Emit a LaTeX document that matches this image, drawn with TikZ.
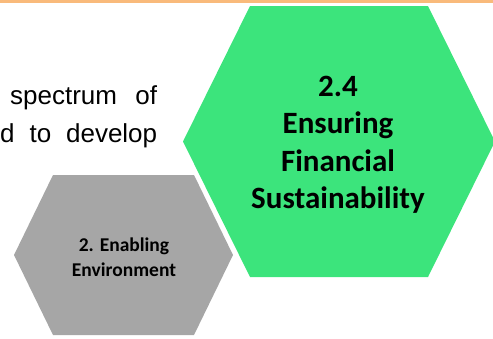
\documentclass[tikz,border=0pt]{standalone}
\usepackage{fontspec}
\setmainfont{Liberation Sans}
\newfontfamily\calibri{Carlito}
\usetikzlibrary{positioning,calc}

\definecolor{hexgreen}{HTML}{3CE47C}
\definecolor{hexgray}{HTML}{A6A6A6}
\definecolor{barorange}{HTML}{F9BA7B}

\begin{document}
\begin{tikzpicture}[x=1pt,y=-1pt,
    hexlabel/.style={align=center,font=\calibri\bfseries},
    bodytext/.style={inner sep=0pt,font=\fontsize{26}{32}\selectfont}]
  \useasboundingbox (0,0) rectangle (493,338);
  \clip (0,0) rectangle (493,338);
  \fill[barorange] (0,0) rectangle (493,3);
  % running text, cut at the left
  \node[bodytext,anchor=base west] (line1) at (10,104) {\makebox[147pt][s]{spectrum\hfill of}};
  \node[bodytext,anchor=base west] (line2) at (0,142) {\makebox[157pt][s]{d\hfill to\hfill develop}};
  % hexagons
  \fill[hexgray] (53,175) -- (194,175) -- (233,255) -- (194,335) -- (53,335) -- (14,255) -- cycle;
  \fill[hexgreen] (250,6) -- (428,6) -- (495,141.5) -- (428,277) -- (250,277) -- (183,141.5) -- cycle;
  \node[hexlabel,font=\calibri\bfseries\fontsize{31}{37.5}\selectfont] (fin) at (338,145)
    {2.4\\Ensuring\\Financial\\Sustainability};
  \node[hexlabel,font=\calibri\bfseries\fontsize{19.5}{25}\selectfont] (env) at (124,257)
    {2. Enabling\\Environment};
\end{tikzpicture}
\end{document}
